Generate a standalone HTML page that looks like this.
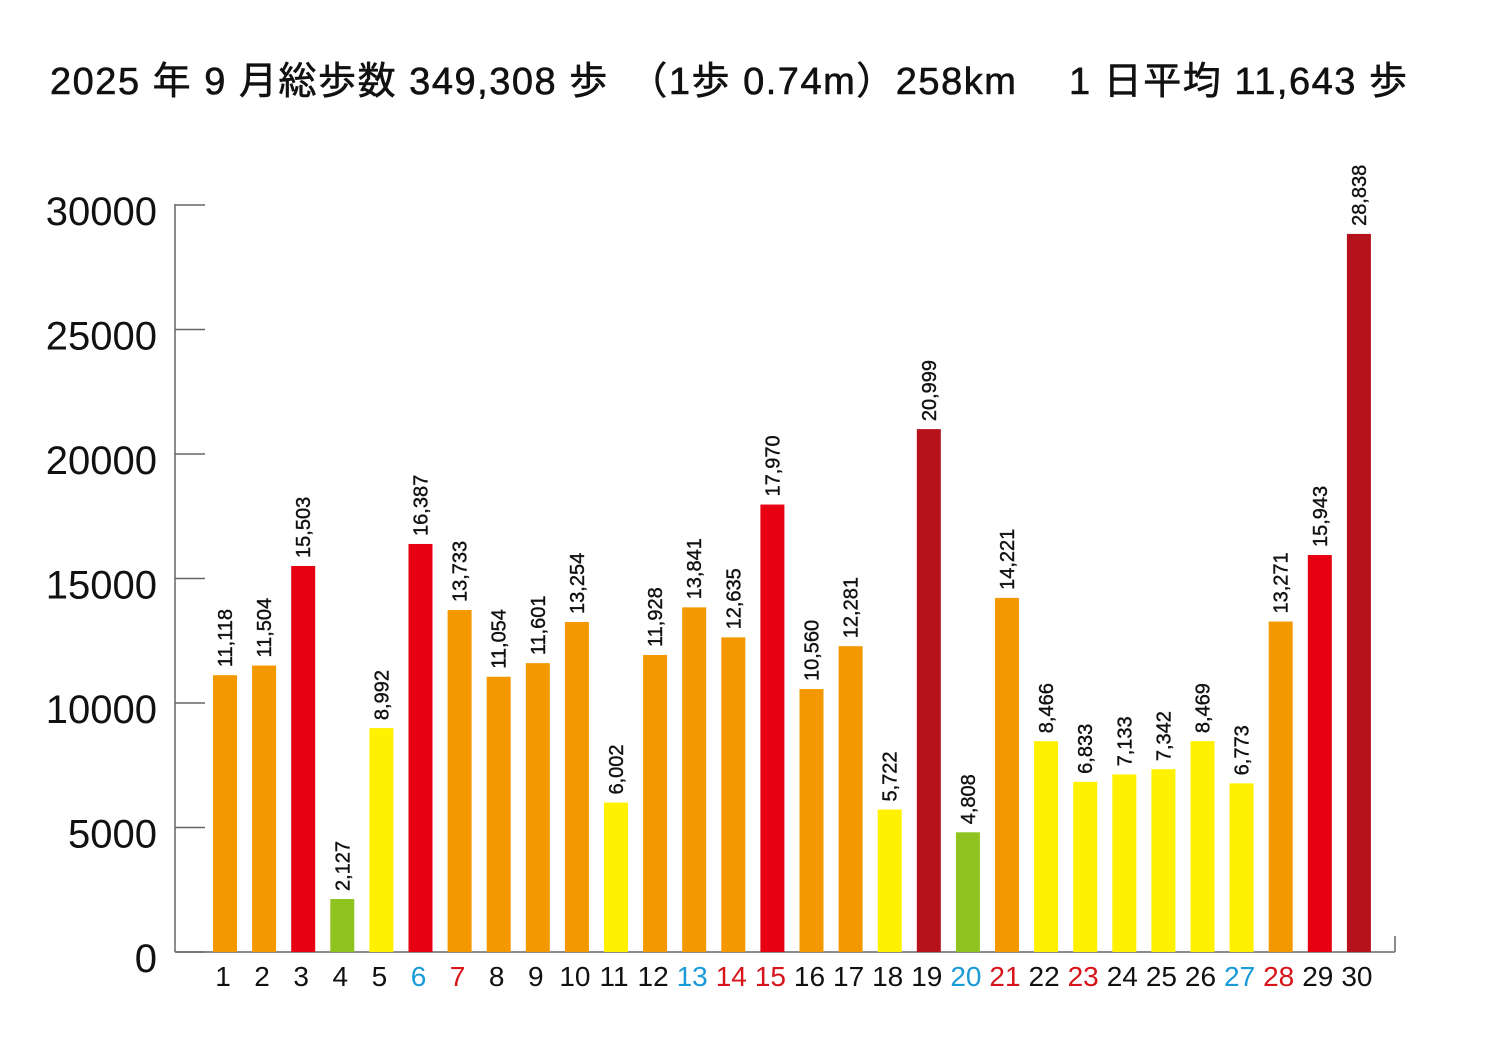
<!DOCTYPE html>
<html><head><meta charset="utf-8"><style>
html,body{margin:0;padding:0;background:#fff;width:1500px;height:1050px;overflow:hidden}
svg{display:block}
text{font-family:"Liberation Sans","Noto Sans CJK JP",sans-serif}
</style></head><body>
<svg id="chart" width="1500" height="1050" viewBox="0 0 1500 1050">
<text x="50" y="94" font-size="38" fill="#111" stroke="#111" stroke-width="0.6" textLength="1357" lengthAdjust="spacing">2025 年 9 月総歩数 349,308 歩　（1歩  0.74m）258km　 1 日平均 11,643 歩</text>
<g id="axes"></g><g id="bars"></g>
</svg>
<script>
const days = [1,2,3,4,5,6,7,8,9,10,11,12,13,14,15,16,17,18,19,20,21,22,23,24,25,26,27,28,29,30];
const steps = [11118,11504,15503,2127,8992,16387,13733,11054,11601,13254,6002,11928,13841,12635,17970,10560,12281,5722,20999,4808,14221,8466,6833,7133,7342,8469,6773,13271,15943,28838];
const saturdays = [6,13,20,27];
const holidays = [7,14,15,21,23,28];
const yTicks = [0,5000,10000,15000,20000,25000,30000];
const NS='http://www.w3.org/2000/svg';
const y0=952, yTop=205, yMax=30000;
const y = v => y0 - (v/yMax)*(y0-yTop);
const x = i => 225 + i*39.1;
const bw = 24;
function color(v){
  if(v<5000) return '#8fc31f';
  if(v<10000) return '#fff100';
  if(v<15000) return '#f39800';
  if(v<20000) return '#e60012';
  return '#b5121b';
}
function mk(tag,attrs,parent){const e=document.createElementNS(NS,tag);for(const k in attrs)e.setAttribute(k,attrs[k]);parent.appendChild(e);return e;}
const axes=document.getElementById('axes'), bars=document.getElementById('bars');
let a=mk('line',{x1:175,y1:yTop-1,x2:175,y2:y0,stroke:'#666','stroke-width':1.5},axes);


a=mk('line',{x1:175,y1:y0,x2:1395,y2:y0,stroke:'#666','stroke-width':1.5},axes);


a=mk('line',{x1:1395,y1:y0,x2:1395,y2:y0-16,stroke:'#666','stroke-width':1.5},axes);


yTicks.forEach(t=>{
  const l=mk('line',{x1:175,y1:y(t),x2:205,y2:y(t),stroke:'#666','stroke-width':1.5},axes);
  
  
  const tx=mk('text',{x:157,y:y(t)+20,'text-anchor':'end','font-size':40,fill:'#111'},axes);
  tx.textContent=t;
  
  
});
steps.forEach((v,i)=>{
  const cx=x(i);
  const r=mk('rect',{x:cx-bw/2,y:y(v),width:bw,height:y0-y(v),fill:color(v)},bars);
  
  
  const lb=mk('text',{transform:`translate(${cx+7},${y(v)-8}) rotate(-90)`,'font-size':20,fill:'#111',stroke:'#111','stroke-width':0.4},bars);
  lb.textContent=v.toLocaleString('en-US');
  
  
  const d=days[i];
  const c=saturdays.includes(d)?'#1a9ad6':(holidays.includes(d)?'#d7141a':'#111');
  const dl=mk('text',{x:cx-2,y:986,'text-anchor':'middle','font-size':28,fill:c},bars);
  dl.textContent=d;
  
  
});
</script>
</body></html>
